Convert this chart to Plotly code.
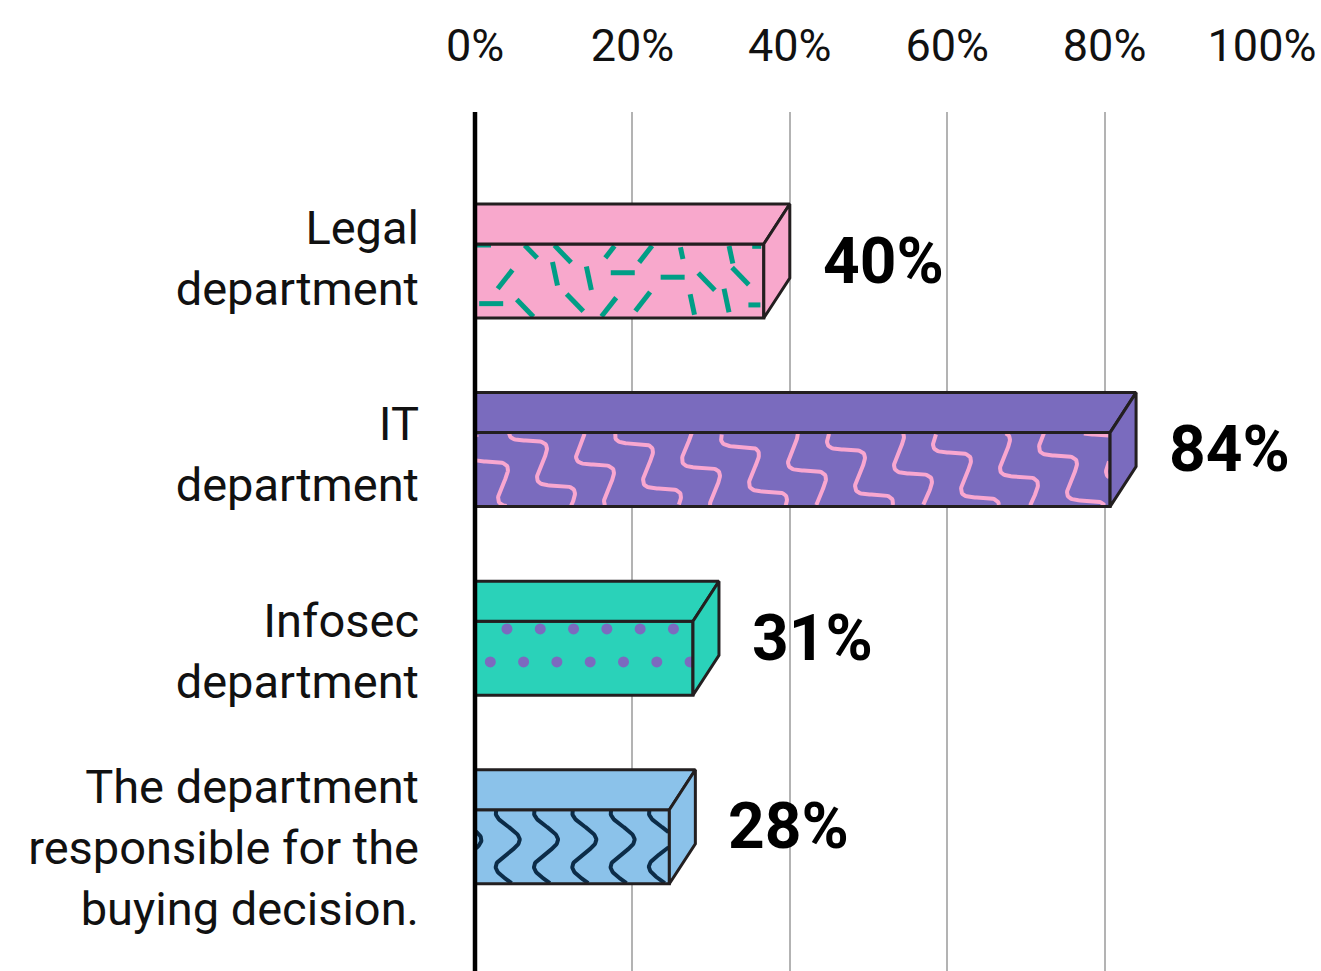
import math

import plotly.graph_objects as go

# ---- data -------------------------------------------------------------
categories = [
    "Legal<br>department",
    "IT<br>department",
    "Infosec<br>department",
    "The department<br>responsible for the<br>buying decision.",
]
values = [40, 84, 31, 28]
x_ticks = [0, 20, 40, 60, 80, 100]
x_tick_labels = ["0%", "20%", "40%", "60%", "80%", "100%"]

# ---- style ------------------------------------------------------------
face_colors = ["#f8a8cc", "#7a6bbe", "#2ad2b9", "#8bc2ea"]
ink_colors = ["#009e86", "#f9a7d0", "#7c6abf", "#0c2c48"]
pattern_kinds = ["confetti", "zigzag", "dots", "waves"]
OUTLINE = "#231f20"
FONT = "Roboto"

FIG_W, FIG_H = 1321, 971
MARGIN = dict(l=475, r=59, t=112, b=0)
PLOT_W = FIG_W - MARGIN["l"] - MARGIN["r"]
PLOT_H = FIG_H - MARGIN["t"] - MARGIN["b"]
ROW_PX = 188.6        # pixels between category rows
FIRST_ROW_PX = 169    # plot top -> centre of first front face
FRONT_PX = 74         # height of the front face
DEPTH_X_PX, DEPTH_Y_PX = 26, 40
LABEL_OFFSET, LABEL_SPREAD = -0.124, 1.042   # category label placement

# pixel -> data unit factors (x is percent, y is category index)
PX_X = 100 / PLOT_W
PX_Y = 1 / ROW_PX
y_lo = -FIRST_ROW_PX * PX_Y
y_hi = y_lo + PLOT_H * PX_Y


def frac(v):
    return v - math.floor(v)


def linspace(a, b, n):
    return [a + (b - a) * j / (n - 1) for j in range(n)]


# ---- pattern generators (local pixel coords, origin = face top-left) ---
def confetti(fw, fh):
    lines = []
    step_x, step_y = 40, 27
    angles = [0, 78, -52, 46]
    for r in range(int(fh // step_y) + 2):
        for c in range(int(fw // step_x) + 2):
            cx = 12 + c * step_x + (r % 2) * step_x / 2 + (frac(c * 0.618 + r * 0.381) - 0.5) * 16
            cy = 6 + r * step_y + (frac(c * 0.447 + r * 0.732) - 0.5) * 10
            a = math.radians(angles[(c * 3 + r * 2 + c // 2) % 4])
            lines.append([(cx + s * 12 * math.cos(a), cy + s * 12 * math.sin(a))
                          for s in linspace(-1, 1, 9)])
    return lines


def zigzag(fw, fh):
    ax, ay = 28, 45
    bx, by = 67, 24
    amp = 13
    la = math.hypot(ax, ay)
    nx, ny = ay / la, -ax / la
    lines = []
    for k in range(-3, int(fw / 52) + 4):
        ox, oy = 53 + k * bx, 8 + k * by
        t0, t1 = (-20 - oy) / ay, (fh + 20 - oy) / ay
        pts = []
        for t in linspace(t0, t1, int((t1 - t0) * 50) + 2):
            s = amp * math.sin(2 * math.pi * t)
            pts.append((ox + t * ax + s * nx, oy + t * ay + s * ny))
        lines.append(pts)
    return lines


def dots(fw, fh):
    pts = []
    sx, sy = 33.3, 33
    for j in range(-1, int(fh / sy) + 2):
        y = 7.7 + j * sy
        if y < 4 or y > fh - 4:
            continue
        x = 15.3 + (sx / 2 if j % 2 == 0 else 0)
        while x <= fw - 1:
            pts.append((x, y))
            x += sx
    return pts


def waves(fw, fh):
    lines = []
    sx, amp, per = 38.3, 12, 54
    for k in range(-1, int(fw / sx) + 2):
        cx = 32.7 + k * sx
        lines.append([(cx - amp * math.cos(2 * math.pi * (y - 3) / per), y)
                      for y in linspace(-5, fh + 5, 90)])
    return lines


def clip_lines(lines, fw, fh, y_top):
    xs, ys = [], []
    for pts in lines:
        for x, y in pts:
            if 0.5 <= x <= fw - 0.5 and 0.5 <= y <= fh - 0.5:
                xs.append(x * PX_X)
                ys.append(y_top + y * PX_Y)
            elif xs and xs[-1] is not None:
                xs.append(None)
                ys.append(None)
        if xs and xs[-1] is not None:
            xs.append(None)
            ys.append(None)
    return xs, ys


fig = go.Figure()

for i, (cat, v) in enumerate(zip(categories, values)):
    x_back = v
    x_front = v - DEPTH_X_PX * PX_X
    y_ftop = i - FRONT_PX / 2 * PX_Y
    y_fbot = i + FRONT_PX / 2 * PX_Y
    y_btop = y_ftop - DEPTH_Y_PX * PX_Y
    y_bbot = y_fbot - DEPTH_Y_PX * PX_Y
    fw = x_front / PX_X
    fh = FRONT_PX

    # front face fill
    fig.add_trace(go.Scatter(
        x=[0, x_front, x_front, 0, 0],
        y=[y_ftop, y_ftop, y_fbot, y_fbot, y_ftop],
        mode="lines", fill="toself", fillcolor=face_colors[i],
        line=dict(width=0, color=face_colors[i]),
        hoverinfo="text", hovertext=f"{cat.replace('<br>', ' ')}: {v}%",
        showlegend=False,
    ))

    # surface pattern
    kind = pattern_kinds[i]
    if kind == "dots":
        pts = dots(fw, fh)
        fig.add_trace(go.Scatter(
            x=[p[0] * PX_X for p in pts],
            y=[y_ftop + p[1] * PX_Y for p in pts],
            mode="markers",
            marker=dict(size=11, color=ink_colors[i], line_width=0),
            hoverinfo="skip", showlegend=False,
        ))
    else:
        gen = {"confetti": confetti, "zigzag": zigzag, "waves": waves}[kind]
        width = {"confetti": 5, "zigzag": 4, "waves": 4}[kind]
        px_, py_ = clip_lines(gen(fw, fh), fw, fh, y_ftop)
        fig.add_trace(go.Scatter(
            x=px_, y=py_, mode="lines",
            line=dict(width=width, color=ink_colors[i]),
            hoverinfo="skip", showlegend=False,
        ))

    # front outline
    fig.add_trace(go.Scatter(
        x=[0, x_front, x_front, 0, 0],
        y=[y_ftop, y_ftop, y_fbot, y_fbot, y_ftop],
        mode="lines", line=dict(width=3, color=OUTLINE),
        hoverinfo="skip", showlegend=False,
    ))
    # top face
    fig.add_trace(go.Scatter(
        x=[0, x_front, x_back, 0, 0],
        y=[y_ftop, y_ftop, y_btop, y_btop, y_ftop],
        mode="lines", fill="toself", fillcolor=face_colors[i],
        line=dict(width=3, color=OUTLINE),
        hoverinfo="skip", showlegend=False,
    ))
    # side face
    fig.add_trace(go.Scatter(
        x=[x_front, x_back, x_back, x_front, x_front],
        y=[y_ftop, y_btop, y_bbot, y_fbot, y_ftop],
        mode="lines", fill="toself", fillcolor=face_colors[i],
        line=dict(width=3, color=OUTLINE),
        hoverinfo="skip", showlegend=False,
    ))

    fig.add_annotation(
        x=x_back, y=i - DEPTH_Y_PX * PX_Y / 2,
        text=f"<b>{v}%</b>", showarrow=False,
        xanchor="left", yanchor="middle", xshift=31,
        font=dict(family=FONT, size=64, color="#000"),
    )

# vertical base axis
fig.add_shape(
    type="line", x0=0, x1=0, xref="paper", y0=0, y1=1, yref="paper",
    line=dict(color="#000", width=4.5), layer="above",
)

fig.update_layout(
    width=FIG_W, height=FIG_H,
    margin=dict(**MARGIN, autoexpand=False),
    plot_bgcolor="white", paper_bgcolor="white",
    showlegend=False,
    font=dict(family=FONT, color="#111"),
    xaxis=dict(
        range=[0, 100], side="top",
        tickvals=x_ticks, ticktext=x_tick_labels,
        showgrid=True, gridcolor="#b3b3b3", gridwidth=2,
        zeroline=False, showline=False, ticks="",
        tickfont=dict(size=45, color="#111"),
        ticklabelstandoff=41, fixedrange=True,
    ),
    yaxis=dict(
        range=[y_hi, y_lo],
        tickvals=[LABEL_OFFSET + LABEL_SPREAD * i for i in range(len(categories))],
        ticktext=categories,
        showgrid=False, zeroline=False, showline=False, ticks="",
        tickfont=dict(size=47, color="#111"),
        ticklabelstandoff=55, fixedrange=True,
    ),
)

# drop the default page margin so the figure fills the window exactly
fig.write_html(
    "out.html",
    config={"displayModeBar": False},
    post_script="document.body.style.margin='0';document.body.style.overflow='hidden';",
)
